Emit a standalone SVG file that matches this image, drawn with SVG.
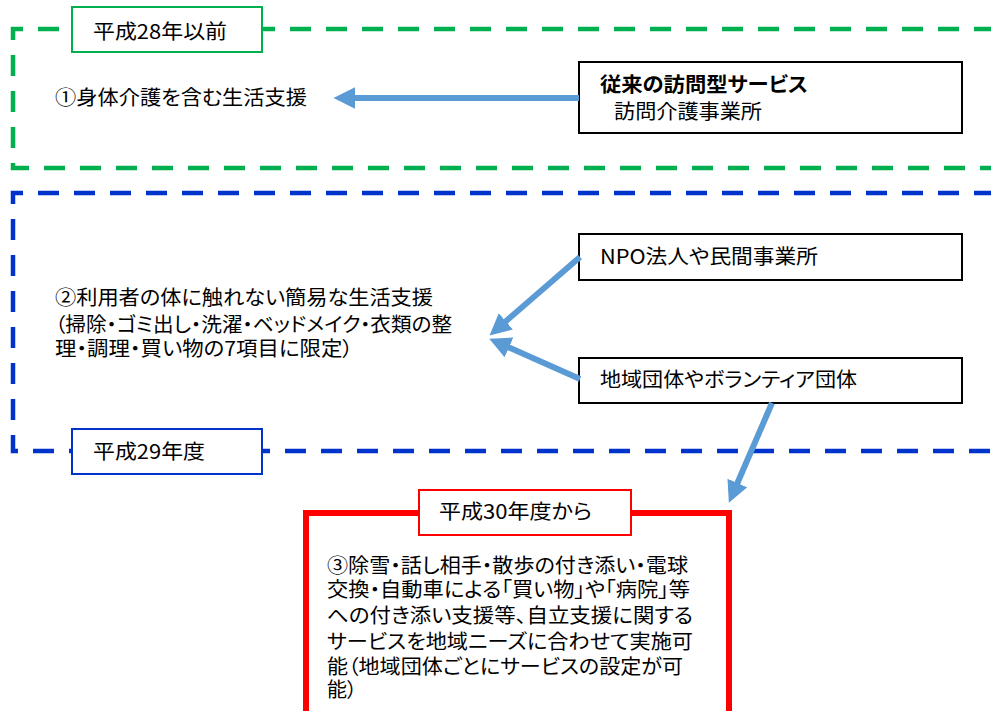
<svg xmlns="http://www.w3.org/2000/svg" width="991" height="711" viewBox="0 0 991 711">
<style>
text{font-family:"Noto Sans CJK JP","Noto Sans",sans-serif;font-size:20px;fill:#000;font-feature-settings:"palt"}
.b{font-weight:bold}
.frame{fill:none;stroke-width:4.5;stroke-dasharray:21 15}
.box{fill:#fff;stroke:#000;stroke-width:2}
.arrow{stroke:#5B9BD5;stroke-width:6;fill:none;marker-end:url(#ah)}
</style>
<defs>
<marker id="ah" viewBox="0 0 10 10" refX="0.5" refY="5" markerWidth="3.6" markerHeight="3.6" orient="auto" markerUnits="strokeWidth">
<path d="M0,0 L10,5 L0,10 z" fill="#5B9BD5"/>
</marker>
</defs>
<rect width="991" height="711" fill="#fff"/>

<g id="era-h28">
<path class="frame" d="M995,29 H13 V168 H995" stroke="#00B050"/>
<rect x="72" y="7" width="190" height="45" fill="#fff" stroke="#00B050" stroke-width="2"/>
<text x="93" y="39" textLength="134" lengthAdjust="spacingAndGlyphs">平成28年以前</text>
</g>

<g id="era-h29">
<path class="frame" d="M995,193 H13 V451 H995" stroke="#0033CC"/>
<rect x="72" y="429" width="190" height="45" fill="#fff" stroke="#0033CC" stroke-width="2"/>
<text x="93" y="459" textLength="112" lengthAdjust="spacingAndGlyphs">平成29年度</text>
</g>

<g id="era-h30">
<path d="M306,720 V513 H729 V720" fill="none" stroke="#FF0000" stroke-width="6"/>
<rect x="419" y="490" width="212" height="45" fill="#fff" stroke="#FF0000" stroke-width="2"/>
<text x="439" y="519" textLength="153" lengthAdjust="spacingAndGlyphs">平成30年度から</text>
</g>

<g id="service1">
<text x="55" y="105" textLength="252" lengthAdjust="spacingAndGlyphs">①身体介護を含む生活支援</text>
</g>

<g id="service2">
<text x="55" y="305" textLength="378" lengthAdjust="spacingAndGlyphs">②利用者の体に触れない簡易な生活支援</text>
<text x="55" y="332" textLength="397" lengthAdjust="spacingAndGlyphs">（掃除・ゴミ出し・洗濯・ベッドメイク・衣類の整</text>
<text x="55" y="356" textLength="298" lengthAdjust="spacingAndGlyphs">理・調理・買い物の7項目に限定）</text>
</g>

<g id="service3">
<text x="327" y="573" textLength="361" lengthAdjust="spacingAndGlyphs">③除雪・話し相手・散歩の付き添い・電球</text>
<text x="327" y="597" textLength="363" lengthAdjust="spacingAndGlyphs">交換・自動車による「買い物」や「病院」等</text>
<text x="327" y="623" textLength="366" lengthAdjust="spacingAndGlyphs">への付き添い支援等、自立支援に関する</text>
<text x="327" y="649" textLength="366" lengthAdjust="spacingAndGlyphs">サービスを地域ニーズに合わせて実施可</text>
<text x="327" y="674" textLength="356" lengthAdjust="spacingAndGlyphs">能（地域団体ごとにサービスの設定が可</text>
<text x="327" y="697">能）</text>
</g>

<g id="provider-houmon">
<rect class="box" x="579" y="62" width="383" height="71"/>
<text class="b" x="600" y="92" textLength="208" lengthAdjust="spacingAndGlyphs">従来の訪問型サービス</text>
<text x="614" y="119" textLength="148" lengthAdjust="spacingAndGlyphs">訪問介護事業所</text>
</g>

<g id="provider-npo">
<rect class="box" x="579" y="234" width="383" height="46"/>
<text x="600" y="264" textLength="218" lengthAdjust="spacingAndGlyphs">NPO法人や民間事業所</text>
</g>

<g id="provider-chiiki">
<rect class="box" x="579" y="358" width="383" height="45"/>
<text x="600" y="387" textLength="257" lengthAdjust="spacingAndGlyphs">地域団体やボランティア団体</text>
</g>

<g id="connectors">
<line class="arrow" x1="579" y1="98" x2="354" y2="98"/>
<line class="arrow" x1="580" y1="257" x2="505" y2="322"/>
<line class="arrow" x1="580" y1="379" x2="508" y2="347"/>
<line class="arrow" x1="772" y1="403" x2="737" y2="484"/>
</g>
</svg>
